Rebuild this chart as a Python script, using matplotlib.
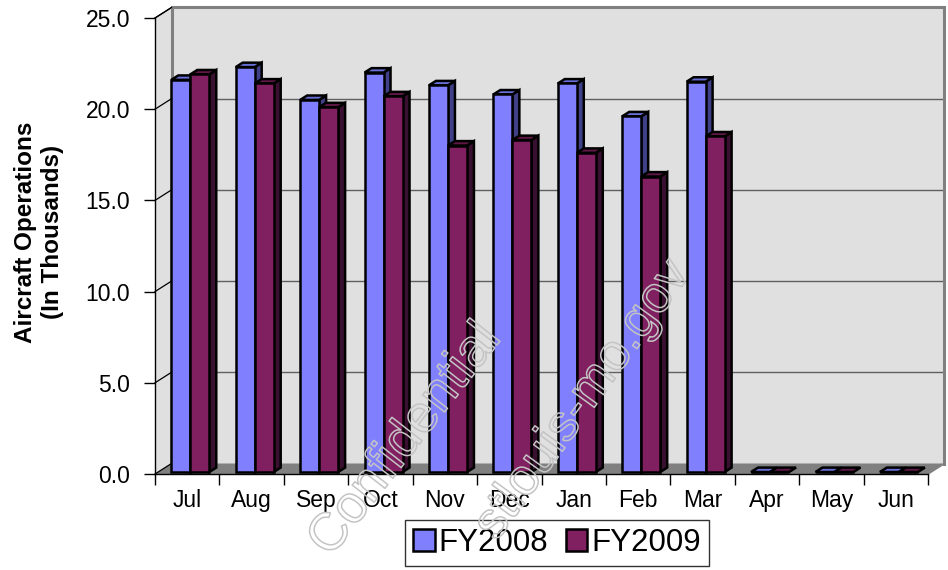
import matplotlib
matplotlib.use("Agg")
import matplotlib.pyplot as plt
import matplotlib.patheffects as pe
from matplotlib.patches import Patch

# ---------------- data ----------------
months = ["Jul", "Aug", "Sep", "Oct", "Nov", "Dec", "Jan", "Feb", "Mar", "Apr", "May", "Jun"]
fy2008 = [21.5, 22.2, 20.4, 21.9, 21.2, 20.7, 21.3, 19.5, 21.4, 0.0, 0.0, 0.0]
fy2009 = [21.8, 21.3, 20.0, 20.6, 17.9, 18.2, 17.5, 16.2, 18.4, 0.0, 0.0, 0.0]
series_names = ["FY2008", "FY2009"]
y_ticks = [0, 5, 10, 15, 20, 25]
y_tick_labels = ["0.0", "5.0", "10.0", "15.0", "20.0", "25.0"]
y_label = "Aircraft Operations\n(In Thousands)"

# ---------------- style ----------------
FONT = "Liberation Sans"
plt.rcParams["font.family"] = [FONT, "DejaVu Sans"]

colors = [
    {"front": "#8080FF", "top": "#6870D8", "side": "#404088"},
    {"front": "#802060", "top": "#601848", "side": "#3A1030"},
]
wall_color = "#E0E0E0"
floor_color = "#808080"

W, H = 948, 570
fig = plt.figure(figsize=(W / 100, H / 100), dpi=100)
fig.patch.set_facecolor("white")

left_px, right_px, top_px, bot_px = 155, 928, 18, 474
ax = fig.add_axes([left_px / W, (H - bot_px) / H, (right_px - left_px) / W, (bot_px - top_px) / H])
ax.set_facecolor("none")
n = len(months)
ax.set_xlim(0, n)
ax.set_ylim(0, 25)

# depth of the 3-D box in data units
DX = 16.5 / ((right_px - left_px) / n)
DY = 10.5 / ((bot_px - top_px) / 25)
ymax = 25

def poly(pts, fc, ec="none", lw=0, z=1):
    xs = [p[0] for p in pts]
    ys = [p[1] for p in pts]
    ax.fill(xs, ys, facecolor=fc, edgecolor=ec, linewidth=lw, zorder=z, clip_on=False)

# back wall
poly([(DX, DY), (n + DX, DY), (n + DX, ymax + DY), (DX, ymax + DY)], wall_color, z=0)
# left wall
poly([(0, 0), (DX, DY), (DX, ymax + DY), (0, ymax)], wall_color, z=0)
# floor
poly([(0, 0), (n, 0), (n + DX, DY), (DX, DY)], floor_color, z=0.5)

# gridlines
for v in y_ticks[1:-1]:
    ax.plot([DX, n + DX], [v + DY, v + DY], color="#606060", lw=1.0, zorder=0.6, clip_on=False)
for v in y_ticks:
    ax.plot([0, DX], [v, v + DY], color="black", lw=0.9, zorder=0.6, clip_on=False)

# back wall frame
ax.plot([DX, DX, n + DX, n + DX], [DY, ymax + DY, ymax + DY, DY], color="#808080", lw=2.2,
        zorder=0.7, clip_on=False, solid_joinstyle="miter")
ax.plot([n, n + DX], [0, DY], color="#808080", lw=1.2, zorder=0.7, clip_on=False)

# bars
bw = 0.295
f0 = 0.19
d = 0.42
for j, vals in enumerate([fy2008, fy2009]):
    c = colors[j]
    xl = [i + 0.5 - bw + j * bw + f0 * DX for i in range(n)]
    base = f0 * DY
    z = 3 + j
    ax.bar(xl, vals, width=bw, bottom=base, align="edge", color=c["front"],
           edgecolor="black", linewidth=1.8, zorder=z + 0.2)
    for x0, v in zip(xl, vals):
        t = base + v
        poly([(x0, t), (x0 + bw, t), (x0 + bw + d * DX, t + d * DY), (x0 + d * DX, t + d * DY)],
             c["top"], "black", 1.8, z + 0.1)
        if v > 0:
            poly([(x0 + bw, base), (x0 + bw, t), (x0 + bw + d * DX, t + d * DY), (x0 + bw + d * DX, base + d * DY)],
                 c["side"], "black", 1.8, z)

# axes lines
for s in ["top", "right"]:
    ax.spines[s].set_visible(False)
for s in ["left", "bottom"]:
    ax.spines[s].set_color("black")
    ax.spines[s].set_linewidth(1.0)
    ax.spines[s].set_zorder(0.8)
ax.plot([0, DX], [ymax, ymax + DY], color="black", lw=0.9, zorder=0.8, clip_on=False)

ax.set_yticks(y_ticks)
ax.set_yticklabels(y_tick_labels, fontsize=16.5)
ax.set_xticks(range(n + 1))
ax.set_xticklabels([])
ax.set_xticks([i + 0.5 for i in range(n)], minor=True)
ax.set_xticklabels(months, minor=True, fontsize=16.5)
ax.tick_params(axis="x", which="major", length=8, width=1, direction="out")
ax.tick_params(axis="x", which="minor", length=0, pad=11)
ax.tick_params(axis="y", length=8, width=1, direction="out", pad=10)

fig.text(39 / W, (H - 232) / H, y_label, rotation=90, ha="center", va="center",
         fontsize=17.5, fontweight="bold", multialignment="center", linespacing=1.2)

# legend
handles = [Patch(facecolor=colors[k]["front"], edgecolor="black", linewidth=1.8) for k in range(2)]
leg = fig.legend(handles, series_names, loc="center", bbox_to_anchor=(557 / W, (H - 543) / H),
                 ncol=2, fontsize=22.5, frameon=True, fancybox=False, handlelength=0.7,
                 handleheight=0.7, handletextpad=0.12, columnspacing=0.55, borderpad=0.25,
                 borderaxespad=0)
leg.get_frame().set_edgecolor("black")
leg.get_frame().set_linewidth(1.0)

# watermark (faint outlined text)
wm_color = "#C4C4C4"
t1 = fig.text(405 / W, (H - 440) / H, "Confidential", rotation=52, fontsize=38,
              color="none", ha="center", va="center", zorder=10)
t1.set_path_effects([pe.Stroke(linewidth=1.1, foreground=wm_color)])
t2 = fig.text(583 / W, (H - 400) / H, "stlouis-mo.gov", rotation=54, fontsize=37,
              color="none", ha="center", va="center", zorder=10)
t2.set_path_effects([pe.Stroke(linewidth=1.1, foreground=wm_color)])

fig.savefig("out.png", dpi=100, facecolor="white")
